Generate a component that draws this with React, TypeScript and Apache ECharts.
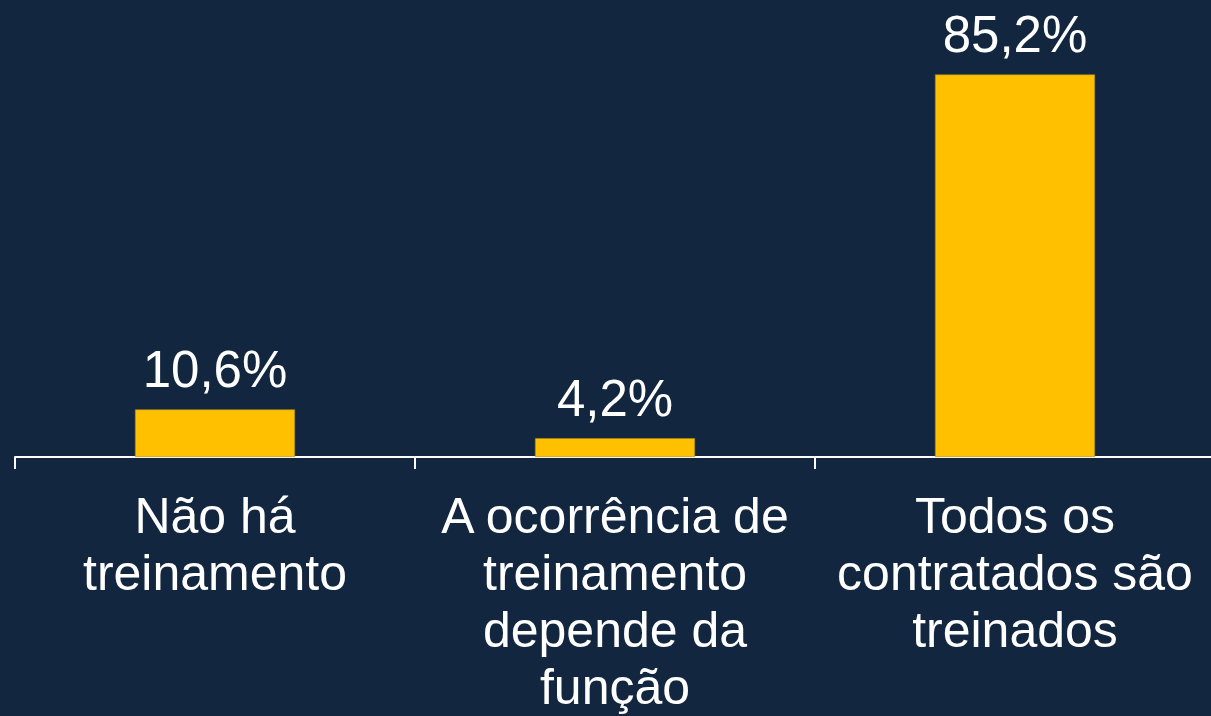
import React, { useEffect, useRef } from "react";
import * as echarts from "echarts";

const categories = [
  "Não há\ntreinamento",
  "A ocorrência de\ntreinamento\ndepende da\nfunção",
  "Todos os\ncontratados são\ntreinados",
];
const values = [10.6, 4.2, 85.2];

export default function App() {
  const ref = useRef<HTMLDivElement>(null);
  useEffect(() => {
    if (!ref.current) return;
    const chart = echarts.init(ref.current, null, { renderer: "svg" });
    chart.setOption({
      animation: false,
      backgroundColor: "#12263f",
      grid: {
        left: 15,
        width: 1200,
        top: 8,
        bottom: 259,
        containLabel: false,
        outerBoundsMode: "none",
      },
      xAxis: {
        type: "category",
        data: categories,
        axisLine: { show: true, lineStyle: { color: "#ffffff", width: 2 } },
        axisTick: { show: true, length: 12, lineStyle: { color: "#ffffff", width: 2 } },
        axisLabel: {
          interval: 0,
          color: "#ffffff",
          fontFamily: "'Liberation Sans', Arial, sans-serif",
          fontSize: 50,
          lineHeight: 57,
          margin: 30,
        },
      },
      yAxis: {
        type: "value",
        min: 0,
        max: 100,
        show: false,
        splitLine: { show: false },
      },
      series: [
        {
          type: "bar",
          data: values,
          barWidth: "40%",
          itemStyle: { color: "#ffc000", borderColor: "#a88a20", borderWidth: 0.6 },
          label: {
            show: true,
            position: "top",
            distance: 14,
            color: "#ffffff",
            fontFamily: "'Liberation Sans', Arial, sans-serif",
            fontSize: 51,
            formatter: (p: any) => String(p.value).replace(".", ",") + "%",
          },
        },
      ],
    });
    return () => chart.dispose();
  }, []);
  return (
    <div
      style={{
        position: "fixed",
        left: 0,
        top: 0,
        width: 1211,
        height: 716,
        overflow: "hidden",
        background: "#12263f",
      }}
    >
      <div ref={ref} style={{ width: 1230, height: 716 }} />
    </div>
  );
}
